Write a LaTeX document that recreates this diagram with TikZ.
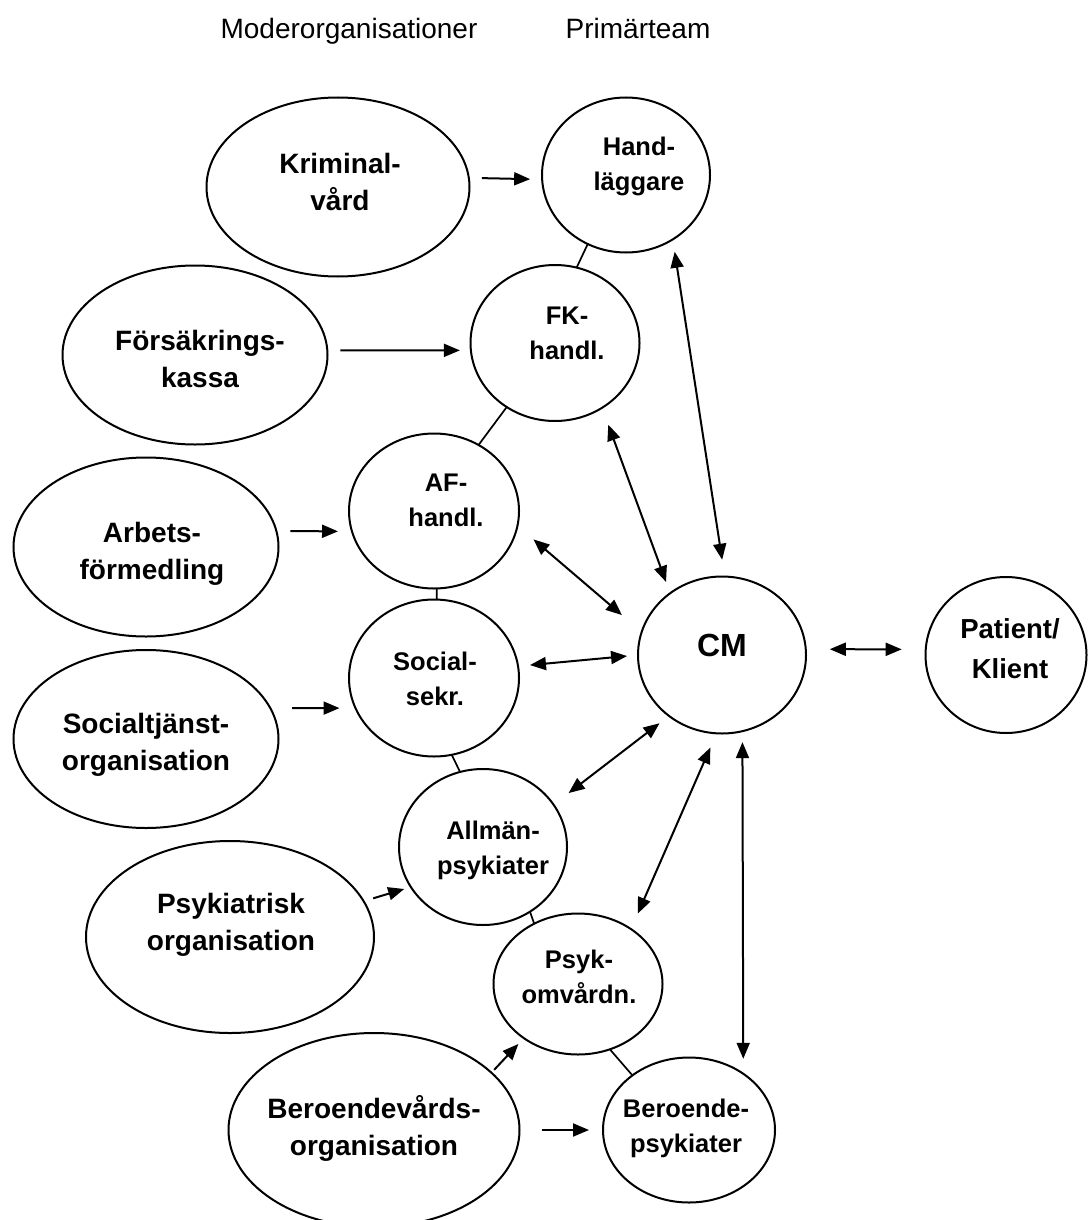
\documentclass[tikz,border=0pt]{standalone}
\usepackage{fontspec}
\setmainfont{Liberation Sans}
\usetikzlibrary{shapes.geometric,arrows.meta}

\tikzset{
  org/.style={ellipse, draw, line width=2pt, inner sep=0pt, outer sep=0pt},
  orgtext/.style={align=center, inner sep=0pt, text depth=0pt, font=\fontsize{28}{37}\selectfont\bfseries},
  teamtext/.style={align=center, inner sep=0pt, text depth=0pt, font=\fontsize{25.5}{35}\selectfont\bfseries},
  head/.style={inner sep=0pt, text depth=0pt, font=\fontsize{28}{34}\selectfont},
  link/.style={line width=1.7pt},
  arr/.style={line width=2pt, -{Triangle[length=16pt,width=13pt]}},
  darr/.style={line width=2pt, {Triangle[length=16pt,width=13pt]}-{Triangle[length=16pt,width=13pt]}}
}

\begin{document}
\begin{tikzpicture}[x=1pt,y=-1pt]
\useasboundingbox (0,0) rectangle (1087,1220);

% headings:
\node[head] (hmoder) at (349,28) {Moderorganisationer};
\node[head] (hprim) at (638,28) {Primärteam};

% mother organisations:
\node[org, minimum width=263pt, minimum height=179pt] (krim) at (338,187) {};
\node[orgtext] (krimt) at (340,182) {Kriminal-\\vård};
\node[org, minimum width=265pt, minimum height=179pt] (fors) at (195,355) {};
\node[orgtext] (forst) at (200,359) {Försäkrings-\\kassa};
\node[org, minimum width=265pt, minimum height=179pt] (arb) at (146,547) {};
\node[orgtext] (arbt) at (152,551) {Arbets-\\förmedling};
\node[org, minimum width=265pt, minimum height=178pt] (soc) at (146,739) {};
\node[orgtext] (soct) at (146,742) {Socialtjänst-\\organisation};
\node[org, minimum width=288pt, minimum height=192pt] (psyk) at (230,937) {};
\node[orgtext] (psykt) at (231,922) {Psykiatrisk\\organisation};
\node[org, minimum width=291pt, minimum height=194pt] (ber) at (374,1130) {};
\node[orgtext] (bert) at (374,1125) {Beroendevårds-\\organisation};

% primary team:
\node[org, minimum width=168pt, minimum height=155pt] (hand) at (626,175) {};
\node[teamtext] (handt) at (639,164) {Hand-\\läggare};
\node[org, minimum width=169pt, minimum height=156pt] (fkh) at (555,343) {};
\node[teamtext] (fkht) at (567,333) {FK-\\handl.};
\node[org, minimum width=170pt, minimum height=155pt] (afh) at (434,511) {};
\node[teamtext] (afht) at (446,500) {AF-\\handl.};
\node[org, minimum width=170pt, minimum height=157pt] (sek) at (434,678) {};
\node[teamtext] (sekt) at (435,679) {Social-\\sekr.};
\node[org, minimum width=168pt, minimum height=156pt] (allm) at (483,847) {};
\node[teamtext] (allmt) at (493,848) {Allmän-\\psykiater};
\node[org, minimum width=169pt, minimum height=141pt] (omv) at (578,984) {};
\node[teamtext] (omvt) at (579,977) {Psyk-\\omvårdn.};
\node[org, minimum width=172pt, minimum height=145pt] (berp) at (689,1130) {};
\node[teamtext] (berpt) at (686,1126) {Beroende-\\psykiater};

% case manager and client:
\node[org, minimum width=168pt, minimum height=157pt] (cm) at (722,655) {};
\node[inner sep=0pt, text depth=0pt, font=\fontsize{32}{38}\selectfont\bfseries] (cmt) at (722,645) {CM};
\node[org, minimum width=161pt, minimum height=156pt] (pat) at (1006,655) {};
\node[orgtext, font=\fontsize{27.5}{40}\selectfont\bfseries] (patt) at (1010,649) {Patient/\\Klient};

% links inside the team:
\draw[link] (hand.241) -- (fkh.74);
\draw[link] (fkh.233) -- (afh.56);
\draw[link] (afh.272) -- (sek.88);
\draw[link] (sek.283) -- (allm.107);
\draw[link] (allm.306) -- (omv.126);
\draw[link] (omv.296) -- (berp.136);

% from mother organisation to team member:
\draw[arr, shorten <=13pt, shorten >=12pt] (krim.4) -- (hand.183);
\draw[arr, shorten <=13pt, shorten >=11pt] (fors.2) -- (fkh.185);
\draw[arr, shorten <=14pt, shorten >=14pt] (arb.7) -- (afh.194);
\draw[arr, shorten <=22pt, shorten >=16pt] (soc.14) -- (sek.201);
\draw[arr, shorten <=10pt, shorten >=7pt] (psyk.15) -- (allm.209);
\draw[arr, shorten <=4pt, shorten >=8pt] (ber.26) -- (omv.225);
\draw[arr, shorten <=22pt, shorten >=14pt] (ber.east) -- (berp.west);

% team member <-> CM:
\draw[darr, shorten <=12.5pt, shorten >=17pt] (hand.306) -- (cm.88);
\draw[darr, shorten <=18pt, shorten >=12pt] (fkh.306) -- (cm.130);
\draw[darr, shorten <=21pt, shorten >=26pt] (afh.350) -- (cm.164);
\draw[darr, shorten <=12pt, shorten >=11pt] (sek.8) -- (cm.180);
\draw[darr, shorten <=19pt, shorten >=12pt] (allm.31) -- (cm.229);
\draw[darr, shorten <=17pt, shorten >=15.5pt] (omv.46) -- (cm.266);
\draw[darr, shorten <=15pt, shorten >=11pt] (berp.46) -- (cm.285);

% CM <-> client:
\draw[darr, shorten <=24pt, shorten >=24pt] (cm.4) -- (pat.176);

\end{tikzpicture}
\end{document}
